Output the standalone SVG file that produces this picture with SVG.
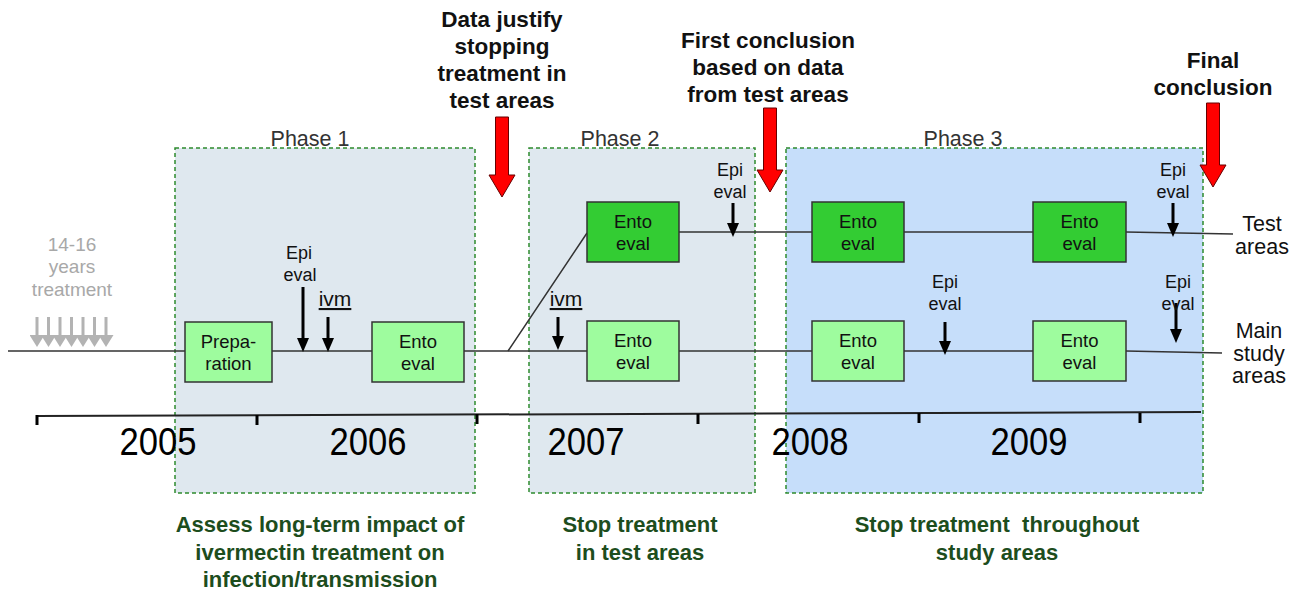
<svg xmlns="http://www.w3.org/2000/svg" width="1297" height="592" viewBox="0 0 1297 592">
<style>
text{font-family:"Liberation Sans",Arial,sans-serif;text-anchor:middle}
.phase{stroke:#2e8b2e;stroke-width:1.5;stroke-dasharray:4 3}
.p12{fill:#dfe8ef}
.p3{fill:#c6defa}
.plabel{font-size:21.5px;fill:#333}
.box{stroke:#333;stroke-width:1.5}
.light{fill:#9efc9e}
.dark{fill:#33cc33}
.bt{font-size:18.5px;fill:#111}
.tl{stroke:#333;stroke-width:1.5;fill:none}
.blk{stroke:#000;stroke-width:3}
.sm{font-size:18px;fill:#111}
.ivm{font-size:21px;fill:#111;text-decoration:underline}
.red{fill:#ff0000;stroke:#600;stroke-width:1}
.head{font-size:22.5px;font-weight:bold;fill:#111}
.yr{font-size:39px;fill:#000}
.goal{font-size:22px;font-weight:bold;fill:#1d4d1d}
.side{font-size:21.5px;fill:#111}
.grey{stroke:#b3b3b3;stroke-width:3}
.gt{font-size:19px;fill:#a8a8a8}
</style>
<defs>
<marker id="ah" viewBox="0 0 14 12" refX="0" refY="6" markerWidth="14" markerHeight="12" markerUnits="userSpaceOnUse" orient="auto"><path d="M0,0 L14,6 L0,12 z" fill="#000"/></marker>
<marker id="gh" viewBox="0 0 12 15" refX="0" refY="7.5" markerWidth="12" markerHeight="15" markerUnits="userSpaceOnUse" orient="auto"><path d="M0,0 L12,7.5 L0,15 z" fill="#b3b3b3"/></marker>
</defs>

<g id="phase1">
<rect class="phase p12" x="175" y="148" width="300" height="345"/>
<text class="plabel" x="310" y="146">Phase 1</text>
</g>
<g id="phase2">
<rect class="phase p12" x="529" y="148" width="226" height="345"/>
<text class="plabel" x="620" y="146">Phase 2</text>
</g>
<g id="phase3">
<rect class="phase p3" x="786" y="148" width="417" height="345"/>
<text class="plabel" x="963" y="146">Phase 3</text>
</g>

<g id="connectors">
<path class="tl" d="M8,351 L185,351 M272,351 L372,351 M464,351 L587,351 M679,351 L812,351 M904,351 L1033,351 M1126,351 L1222,353"/>
<path class="tl" d="M508,351 L587,233 M679,232 L812,232 M904,232 L1033,232 M1126,232 L1233,234"/>
<path d="M36,416 L1201,412" stroke="#222" stroke-width="2" fill="none"/>
<path d="M37,415 V425 M257,415 V425 M477,414 V424 M698,414 V424 M919,413 V423 M1140,413 V423" stroke="#000" stroke-width="3"/>
</g>

<g id="history">
<line class="grey" x1="37" y1="317" x2="37" y2="335" marker-end="url(#gh)"/>
<line class="grey" x1="48.5" y1="317" x2="48.5" y2="335" marker-end="url(#gh)"/>
<line class="grey" x1="60" y1="317" x2="60" y2="335" marker-end="url(#gh)"/>
<line class="grey" x1="71.5" y1="317" x2="71.5" y2="335" marker-end="url(#gh)"/>
<line class="grey" x1="83" y1="317" x2="83" y2="335" marker-end="url(#gh)"/>
<line class="grey" x1="94.5" y1="317" x2="94.5" y2="335" marker-end="url(#gh)"/>
<line class="grey" x1="106" y1="317" x2="106" y2="335" marker-end="url(#gh)"/>
<text class="gt" x="72" y="251">14-16</text>
<text class="gt" x="72" y="273">years</text>
<text class="gt" x="72" y="296">treatment</text>
</g>

<g id="prep">
<rect class="box light" x="185" y="322" width="87" height="60"/>
<text class="bt" x="228.5" y="348">Prepa-</text>
<text class="bt" x="228.5" y="370">ration</text>
</g>
<g id="ento1">
<rect class="box light" x="372" y="322" width="92" height="60"/>
<text class="bt" x="418" y="348">Ento</text>
<text class="bt" x="418" y="370">eval</text>
</g>
<g id="ento2t">
<rect class="box dark" x="587" y="202" width="92" height="60"/>
<text class="bt" x="633" y="228">Ento</text>
<text class="bt" x="633" y="250">eval</text>
</g>
<g id="ento2m">
<rect class="box light" x="587" y="321" width="92" height="60"/>
<text class="bt" x="633" y="347">Ento</text>
<text class="bt" x="633" y="369">eval</text>
</g>
<g id="ento3t1">
<rect class="box dark" x="812" y="202" width="92" height="60"/>
<text class="bt" x="858" y="228">Ento</text>
<text class="bt" x="858" y="250">eval</text>
</g>
<g id="ento3t2">
<rect class="box dark" x="1033" y="202" width="93" height="60"/>
<text class="bt" x="1079.5" y="228">Ento</text>
<text class="bt" x="1079.5" y="250">eval</text>
</g>
<g id="ento3m1">
<rect class="box light" x="812" y="321" width="92" height="60"/>
<text class="bt" x="858" y="347">Ento</text>
<text class="bt" x="858" y="369">eval</text>
</g>
<g id="ento3m2">
<rect class="box light" x="1033" y="321" width="93" height="60"/>
<text class="bt" x="1079.5" y="347">Ento</text>
<text class="bt" x="1079.5" y="369">eval</text>
</g>

<g id="events">
<line class="blk" x1="303" y1="287" x2="303" y2="338" marker-end="url(#ah)"/>
<text class="sm" x="299" y="259">Epi</text>
<text class="sm" x="300" y="281">eval</text>
<line class="blk" x1="328" y1="317" x2="328" y2="338" marker-end="url(#ah)"/>
<text class="ivm" x="335" y="306">ivm</text>
<line class="blk" x1="558" y1="317" x2="558" y2="336" marker-end="url(#ah)"/>
<text class="ivm" x="566" y="306">ivm</text>
<line class="blk" x1="733" y1="203" x2="733" y2="223" marker-end="url(#ah)"/>
<text class="sm" x="730" y="176">Epi</text>
<text class="sm" x="730" y="198">eval</text>
<line class="blk" x1="1173" y1="203" x2="1173" y2="223" marker-end="url(#ah)"/>
<text class="sm" x="1173" y="176">Epi</text>
<text class="sm" x="1173" y="198">eval</text>
<line class="blk" x1="945" y1="322" x2="945" y2="341" marker-end="url(#ah)"/>
<text class="sm" x="945" y="288">Epi</text>
<text class="sm" x="945" y="310">eval</text>
<line class="blk" x1="1176" y1="303" x2="1176" y2="329" marker-end="url(#ah)"/>
<text class="sm" x="1178" y="288">Epi</text>
<text class="sm" x="1178" y="310">eval</text>
</g>

<g id="milestone1">
<path class="red" d="M495.5,117 H508.5 V175 H515 L502,197 L489,175 H495.5 Z"/>
<text class="head" x="502" y="27">Data justify</text>
<text class="head" x="502" y="54">stopping</text>
<text class="head" x="502" y="81">treatment in</text>
<text class="head" x="502" y="108">test areas</text>
</g>
<g id="milestone2">
<path class="red" d="M763.5,108 H776.5 V170 H783 L770,192 L757,170 H763.5 Z"/>
<text class="head" x="768" y="48">First conclusion</text>
<text class="head" x="768" y="75">based on data</text>
<text class="head" x="768" y="102">from test areas</text>
</g>
<g id="milestone3">
<path class="red" d="M1206.5,103 H1219.5 V165 H1226 L1213,187 L1200,165 H1206.5 Z"/>
<text class="head" x="1213" y="68">Final</text>
<text class="head" x="1213" y="95">conclusion</text>
</g>

<g id="sidelabels">
<text class="side" x="1262" y="231">Test</text>
<text class="side" x="1262" y="254">areas</text>
<text class="side" x="1259" y="338">Main</text>
<text class="side" x="1259" y="361">study</text>
<text class="side" x="1259" y="383">areas</text>
</g>

<g id="years">
<text class="yr" x="158" y="455" textLength="77" lengthAdjust="spacingAndGlyphs">2005</text>
<text class="yr" x="368" y="455" textLength="77" lengthAdjust="spacingAndGlyphs">2006</text>
<text class="yr" x="586" y="455" textLength="77" lengthAdjust="spacingAndGlyphs">2007</text>
<text class="yr" x="810" y="455" textLength="77" lengthAdjust="spacingAndGlyphs">2008</text>
<text class="yr" x="1029" y="455" textLength="77" lengthAdjust="spacingAndGlyphs">2009</text>
</g>

<g id="goals">
<text class="goal" x="320" y="532">Assess long-term impact of</text>
<text class="goal" x="320" y="560">ivermectin treatment on</text>
<text class="goal" x="320" y="587">infection/transmission</text>
<text class="goal" x="640" y="532">Stop treatment</text>
<text class="goal" x="640" y="560">in test areas</text>
<text class="goal" x="997" y="532" xml:space="preserve">Stop treatment  throughout</text>
<text class="goal" x="997" y="560">study areas</text>
</g>
</svg>
